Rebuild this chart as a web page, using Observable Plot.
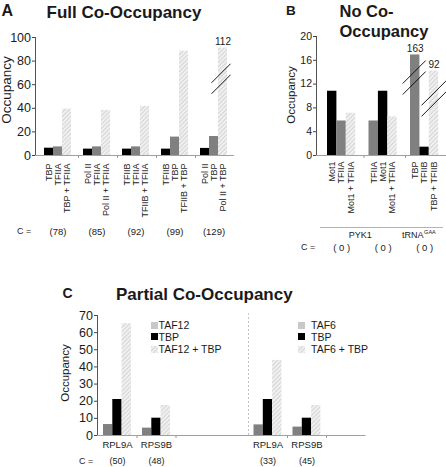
<!DOCTYPE html>
<html><head><meta charset="utf-8">
<script src="https://cdn.jsdelivr.net/npm/d3@7"></script>
<script src="https://cdn.jsdelivr.net/npm/@observablehq/plot@0.6"></script>
<style>
html,body{margin:0;padding:0;background:#fff;overflow:hidden;}
#root{position:relative;width:446px;height:467px;overflow:hidden;font-family:"Liberation Sans",Arial,sans-serif;color:#1a1a1a;}
.abs{position:absolute;white-space:nowrap;line-height:1;}
.b{font-weight:bold;}
.rot{transform:translate(-50%,-50%) rotate(-90deg);}
.plot{position:absolute;}
.plot svg{max-width:none !important;}
</style></head>
<body>
<div id="root">
<svg width="0" height="0" style="position:absolute;left:0;top:0">
  <defs>
    <pattern id="hatch" patternUnits="userSpaceOnUse" width="3" height="3" patternTransform="rotate(45)">
      <rect width="3" height="3" fill="#f0f0f0"></rect>
      <line x1="0.5" y1="0" x2="0.5" y2="3" stroke="#d4d4d4" stroke-width="1"></line>
    </pattern>
  </defs>
</svg>
</div>
<script>
// ---------- DATA ----------
// Panel A: Full Co-Occupancy
const groupsA = ["TBP|TFIIA", "PolII|TFIIA", "TFIIB|TFIIA", "TFIIB|TBP", "PolII|TBP"];
const barLabelsA = [
  ["TBP", "TFIIA", "TBP + TFIIA"],
  ["Pol II", "TFIIA", "Pol II + TFIIA"],
  ["TFIIB", "TFIIA", "TFIIB + TFIIA"],
  ["TFIIB", "TBP", "TFIIB + TBP"],
  ["Pol II", "TBP", "Pol II + TBP"]
];
const kindsA = [
  ["black", "gray", "hatch"], ["black", "gray", "hatch"], ["black", "gray", "hatch"],
  ["black", "gray", "hatch"], ["black", "gray", "hatch"]
];
const valuesA = [[6.2, 7.3, 39.3], [5.4, 7.3, 38.2], [5.4, 7.3, 41.6], [5.4, 15.6, 88.4], [6.0, 16.1, 91.0]];
const countsA = ["(78)", "(85)", "(92)", "(99)", "(129)"];
const yTicksA = [0, 20, 40, 60, 80, 100];
const brokenA = [{group: 4, pos: 2, shown: 91.0, text: "112", breakAt: 65}];

// Panel B: No Co-Occupancy
const groupsB = ["Mot1|TFIIA", "TFIIA|Mot1", "TBP|TFIIB"];
const barLabelsB = [
  ["Mot1", "TFIIA", "Mot1 + TFIIA"],
  ["TFIIA", "Mot1", "Mot1 + TFIIA"],
  ["TBP", "TFIIB", "TBP + TFIIB"]
];
const kindsB = [["black", "gray", "hatch"], ["gray", "black", "hatch"], ["gray", "black", "hatch"]];
const valuesB = [[10.8, 5.8, 7.1], [5.8, 10.8, 6.5], [16.9, 1.4, 14.2]];
const countsB = ["( 0 )", "( 0 )", "( 0 )"];
const yTicksB = [0, 4, 8, 12, 16, 20];
const brokenB = [
  {group: 2, pos: 0, shown: 16.9, text: "163", breakAt: 13.1},
  {group: 2, pos: 2, shown: 14.2, text: "92", breakAt: 9.6}
];
const genesB = ["PYK1", "tRNA"];
const genesBSup = ["", "GAA"];

// Panel C: Partial Co-Occupancy
const genesC = ["RPL9A", "RPS9B"];
const legendC = [["TAF12", "TBP", "TAF12 + TBP"], ["TAF6", "TBP", "TAF6 + TBP"]];
const kindsC = ["gray", "black", "hatch"];
const valuesC = [
  [[6.4, 21.0, 65.2], [4.3, 10.1, 17.5]],
  [[6.2, 21.0, 43.8], [4.9, 10.1, 17.5]]
];
const countsC = [["(50)", "(48)"], ["(33)", "(45)"]];
const yTicksC = [0, 10, 20, 30, 40, 50, 60, 70];

// ---------- LAYOUT HELPERS ----------
const G_A = {step: 39, offset: 5, w: 9};
const G_B = {step: 41.5, offset: 5, w: 9.4};
const G_C = {step: 39, offset: 5.5, w: 9.3};
const breakGeomA = [{r: 9.5, shift: -2}];
const breakGeomB = [{r: 11.5, shift: -1}, {r: 12.5, shift: 0}];

const colorScale = {type: "ordinal", domain: ["black", "gray", "hatch"], range: ["#000000", "#c8c8c8", "url(#hatch)"]};
const fillOf = k => colorScale.range[colorScale.domain.indexOf(k)];
const FONT = "Liberation Sans, Arial, sans-serif";
const baseStyle = fs => ({background: "transparent", overflow: "visible", fontFamily: FONT, fontSize: fs, color: "#1a1a1a"});

function rows(groups, labels, kinds, values) {
  const out = [];
  groups.forEach((g, gi) => labels[gi].forEach((lab, p) =>
    out.push({group: g, pos: p, label: lab, kind: kinds[gi][p], value: values[gi][p]})));
  return out;
}
function insets(g, p) { return {insetLeft: g.offset + p * g.w, insetRight: g.step - g.offset - (p + 1) * g.w}; }
function center(g, p) { return g.offset + (p + 0.5) * g.w - g.step / 2; }
function barMarks(bars, g) {
  return [0, 1, 2].map(p => Plot.barY(bars.filter(d => d.pos === p), {x: "group", y: "value", fill: "kind", ...insets(g, p)}));
}
function boundaryTicks(groups, g) {
  return Plot.ruleX(groups, {x: d => d, y1: 0, y2: 0, dx: g.step / 2, insetBottom: -3, stroke: "#9a9a9a"});
}
function yAxis(ticks, fs) {
  return [
    Plot.axisY({ticks, tickSize: 3, tickPadding: 1.5, fontSize: fs, fontFamily: FONT, label: null, stroke: "#444"}),
    Plot.frame({anchor: "left", stroke: "#555"})
  ];
}
function labelMarks(bars, g, dy, fs) {
  return [0, 1, 2].map(p => Plot.text(bars.filter(d => d.pos === p), {
    x: "group", text: "label", frameAnchor: "bottom", lineAnchor: "middle", rotate: -90, textAnchor: "end", dy, dx: center(g, p), fontSize: fs
  }));
}
function bottomText(data, opts) {
  return Plot.text(data, {frameAnchor: "bottom", lineAnchor: "middle", ...opts});
}
const breakSymbol = {
  draw(context, size) {
    const r = Math.sqrt(size / Math.PI), gap = 5.5;
    context.moveTo(-r, r - gap); context.lineTo(r, -r - gap);
    context.moveTo(-r, r + gap); context.lineTo(r, -r + gap);
  }
};
function brokenMarks(broken, groups, g, geoms, fs) {
  return broken.flatMap((b, i) => {
    const row = [{group: groups[b.group], shown: b.shown, breakAt: b.breakAt, text: b.text}];
    return [
      Plot.text(row, {x: "group", y: "shown", text: "text", dx: center(g, b.pos), dy: -3, lineAnchor: "bottom", fontSize: fs}),
      Plot.dot(row, {x: "group", y: "breakAt", dx: center(g, b.pos) + geoms[i].shift, r: geoms[i].r,
        symbol: breakSymbol, stroke: "#000", fill: "none", strokeWidth: 0.9})
    ];
  });
}

const root = document.getElementById("root");
function place(el, left, top) {
  const d = document.createElement("div");
  d.className = "plot"; d.style.left = left + "px"; d.style.top = top + "px";
  d.appendChild(el); root.appendChild(d);
}
function text(t, left, top, size, cls = "") {
  const d = document.createElement("div");
  d.className = "abs " + cls; d.textContent = t;
  d.style.left = left + "px"; d.style.top = top + "px"; d.style.fontSize = size + "px";
  root.appendChild(d); return d;
}

// ---------- PANEL A ----------
const barsA = rows(groupsA, barLabelsA, kindsA, valuesA);
place(Plot.plot({
  width: 240, height: 240,
  marginLeft: 35, marginRight: 6, marginTop: 37, marginBottom: 85,
  x: {domain: groupsA, range: [39, 234], padding: 0, round: false, axis: null},
  y: {domain: [0, 100]},
  color: colorScale,
  style: baseStyle("12px"),
  marks: [
    ...yAxis(yTicksA, 12.5),
    Plot.ruleY([0], {stroke: "#a0a0a0"}),
    boundaryTicks(groupsA.slice(0, -1), G_A),
    ...barMarks(barsA, G_A),
    ...labelMarks(barsA, G_A, 8, 9),
    bottomText(groupsA.map((g, i) => ({group: g, text: countsA[i]})), {x: "group", text: "text", dy: 76, dx: center(G_A, 1), fontSize: 9.5}),
    ...brokenMarks(brokenA, groupsA, G_A, breakGeomA, 10)
  ]
}), 0, 0);

// ---------- PANEL B ----------
const barsB = rows(groupsB, barLabelsB, kindsB, valuesB);
place(Plot.plot({
  width: 218, height: 260,
  marginLeft: 86, marginRight: 0, marginTop: 36, marginBottom: 105,
  x: {domain: groupsB, range: [92, 216.5], padding: 0, round: false, axis: null},
  y: {domain: [0, 20]},
  color: colorScale,
  style: baseStyle("10.5px"),
  marks: [
    ...yAxis(yTicksB, 10.5),
    Plot.ruleY([0], {stroke: "#a0a0a0"}),
    boundaryTicks(groupsB.slice(0, -1), G_B),
    ...barMarks(barsB, G_B),
    ...labelMarks(barsB, G_B, 6, 9),
    bottomText(groupsB.map((g, i) => ({group: g, text: countsB[i]})), {x: "group", text: "text", dy: 92, dx: center(G_B, 1), fontSize: 9.5}),
    bottomText([{group: groupsB[0], text: genesB[0]}], {x: "group", text: "text", dy: 80, dx: center(G_B, 1) + G_B.step / 2 - 2, fontSize: 9}),
    bottomText([{group: groupsB[2], text: genesB[1]}], {x: "group", text: "text", dy: 80, dx: center(G_B, 1) - 1, textAnchor: "end", fontSize: 9}),
    bottomText([{group: groupsB[2], text: genesBSup[1]}], {x: "group", text: "text", dy: 77, dx: center(G_B, 1) - 0.5, textAnchor: "start", fontSize: 5.5}),
    ...brokenMarks(brokenB, groupsB, G_B, breakGeomB, 10)
  ]
}), 230, 0);

// ---------- PANEL C ----------
const barsC = valuesC.map((side, s) => rows(genesC, genesC.map(() => kindsC.map(() => "")), genesC.map(() => kindsC), side));
function panelC(s, opts) {
  const bars = barsC[s];
  return Plot.plot({
    width: opts.width, height: 167,
    marginLeft: opts.marginLeft, marginRight: opts.marginRight, marginTop: 15, marginBottom: 32,
    x: {domain: genesC, range: opts.range, padding: 0, round: false, axis: null},
    y: {domain: [0, 70], axis: null},
    color: colorScale,
    style: baseStyle("12px"),
    marks: [
      ...(opts.axis ? yAxis(yTicksC, 12.5) : []),
      ...(opts.sep ? [Plot.ruleX([genesC[0]], {x: d => d, dx: -G_C.step / 2, y1: 0, y2: 71, stroke: "#c4c4c4", strokeDasharray: "2,2"})] : []),
      Plot.ruleY([0], {stroke: "#a0a0a0"}),
      boundaryTicks(genesC, G_C),
      ...barMarks(bars, G_C),
      bottomText(genesC, {x: d => d, text: d => d, dy: 9.5, dx: center(G_C, 1), fontSize: 9.5}),
      bottomText(genesC.map((g, i) => ({group: g, text: countsC[s][i]})), {x: "group", text: "text", dy: 26, dx: center(G_C, 1), fontSize: 9})
    ]
  });
}
place(panelC(0, {width: 248, marginLeft: 97, marginRight: 0, range: [97.5, 175.5], axis: true}), 0, 300);
place(panelC(1, {width: 199, marginLeft: 0, marginRight: 81.5, range: [0, 78], sep: true}), 247.5, 300);

// ---------- TEXT / LEGENDS ----------
text("A", 1.5, 3.2, 16, "b");
text("Full Co-Occupancy", 46.5, 3.9, 17, "b");
text("B", 286, 3.6, 13.5, "b");
text("No Co-", 339.5, 3.3, 16.5, "b");
text("Occupancy", 339.5, 22.7, 16.5, "b");
text("C", 62.5, 286.1, 14, "b");
text("Partial Co-Occupancy", 116, 286.3, 17, "b");

const yl = [["Occupancy", 7, 90, 13.5], ["Occupancy", 292, 95, 11.5], ["Occupancy", 66, 373, 11.5]];
yl.forEach(([t, cx, cy, fs]) => text(t, cx, cy, fs, "rot"));

text("C =", 17, 226.6, 9);
text("C =", 301, 242.9, 9);
text("C =", 79, 456.5, 9);

const line = document.createElement("div");
line.style.cssText = "position:absolute;left:320px;top:227px;width:123px;height:0;border-top:1px solid #b4b4b4;";
root.appendChild(line);

const legendX = [[151, 158.5], [297.7, 311]];
const legendTop = [320.4, 331.8, 344.4];
legendC.forEach((items, s) => {
  items.forEach((t, k) => {
    const sw = document.createElementNS("http://www.w3.org/2000/svg", "svg");
    sw.setAttribute("width", 7); sw.setAttribute("height", 7);
    sw.innerHTML = `<rect width="7" height="7" fill="${fillOf(kindsC[k])}"></rect>`;
    sw.style.cssText = `position:absolute;left:${legendX[s][0]}px;top:${legendTop[k] + 1.3}px;`;
    root.appendChild(sw);
    text(t, legendX[s][1], legendTop[k], 10.5);
  });
});
</script>
</body></html>
